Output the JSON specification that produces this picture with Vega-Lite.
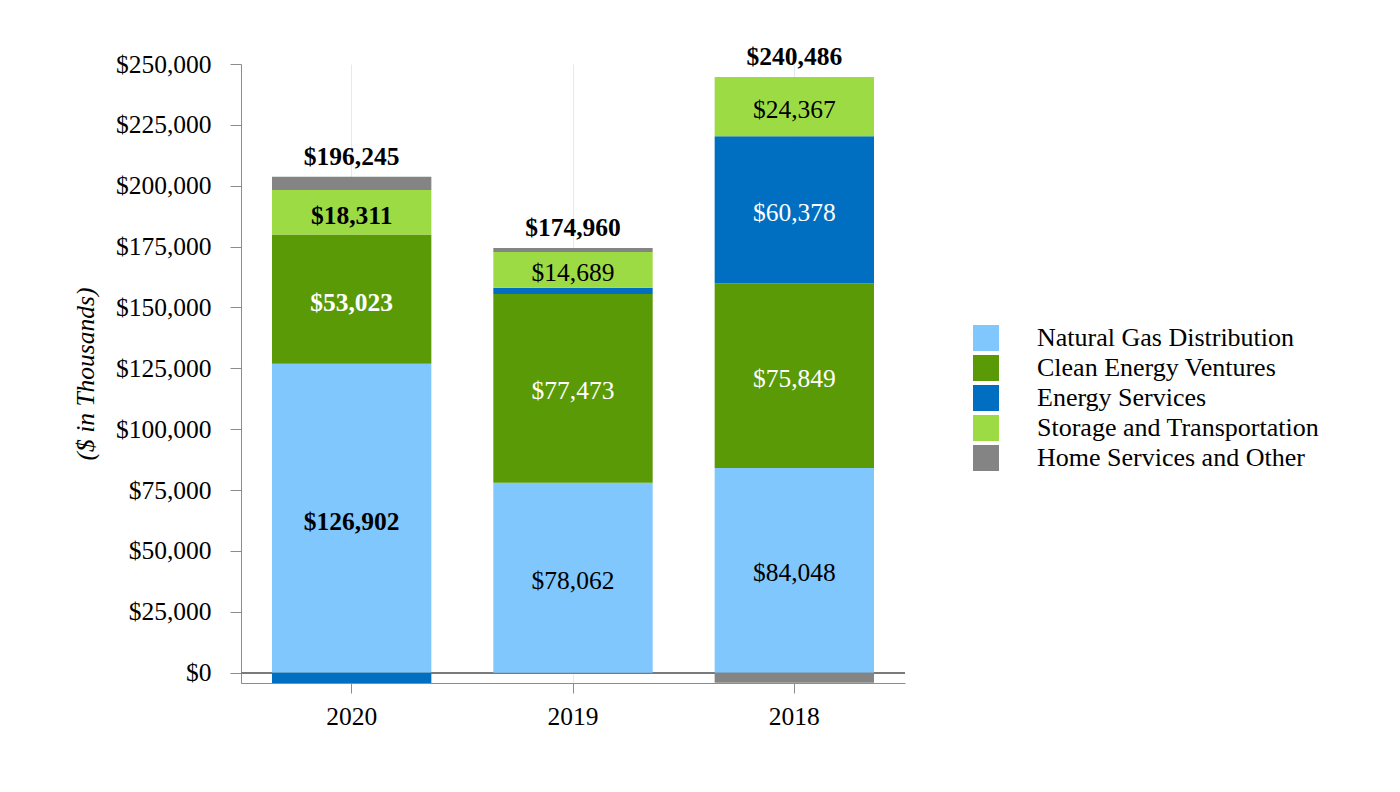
{
  "$schema": "https://vega.github.io/schema/vega-lite/v6.json",
  "autosize": {"type": "none"},
  "padding": {"left": 241, "top": 64, "right": 495, "bottom": 109},
  "width": 664,
  "height": 619,
  "background": "white",
  "datasets": {
    "segments": [
      {"year": "2020", "segment": "Natural Gas Distribution", "value": 126902},
      {"year": "2020", "segment": "Clean Energy Ventures", "value": 53023},
      {"year": "2020", "segment": "Energy Services", "value": -4233},
      {"year": "2020", "segment": "Storage and Transportation", "value": 18311},
      {"year": "2020", "segment": "Home Services and Other", "value": 5500},
      {"year": "2019", "segment": "Natural Gas Distribution", "value": 78062},
      {"year": "2019", "segment": "Clean Energy Ventures", "value": 77473},
      {"year": "2019", "segment": "Energy Services", "value": 2600},
      {"year": "2019", "segment": "Storage and Transportation", "value": 14689},
      {"year": "2019", "segment": "Home Services and Other", "value": 1600},
      {"year": "2018", "segment": "Natural Gas Distribution", "value": 84048},
      {"year": "2018", "segment": "Clean Energy Ventures", "value": 75849},
      {"year": "2018", "segment": "Energy Services", "value": 60378},
      {"year": "2018", "segment": "Storage and Transportation", "value": 24367},
      {"year": "2018", "segment": "Home Services and Other", "value": -4156}
    ],
    "totals": [
      {"year": "2020", "total": 196245},
      {"year": "2019", "total": 174960},
      {"year": "2018", "total": 240486}
    ]
  },
  "data": {"name": "segments"},
  "transform": [
    {"calculate": "indexof(['Natural Gas Distribution','Clean Energy Ventures','Energy Services','Storage and Transportation','Home Services and Other'], datum.segment)", "as": "order"},
    {"stack": "value", "groupby": ["year"], "sort": [{"field": "order", "order": "ascending"}], "offset": "zero", "as": ["v0", "v1"]},
    {"calculate": "(datum.v0 + datum.v1) / 2", "as": "mid"}
  ],
  "encoding": {
    "x": {
      "field": "year",
      "type": "nominal",
      "sort": ["2020", "2019", "2018"],
      "title": null,
      "scale": {"paddingInner": 0.28, "paddingOuter": 0.14},
      "axis": {
        "labelAngle": 0,
        "grid": true,
        "gridColor": "#e8e8e8",
        "domainColor": "#8c8c8c",
        "tickColor": "#8c8c8c",
        "tickSize": 10,
        "labelPadding": 11
      }
    }
  },
  "layer": [
    {
      "mark": {"type": "rule", "color": "#7a7a7a", "strokeWidth": 1.5},
      "encoding": {"y": {"datum": 0, "type": "quantitative", "scale": {"domain": [-4233, 250000], "nice": false}}, "x": {"value": 0}, "x2": {"value": 664}}
    },
    {
      "mark": {"type": "bar"},
      "encoding": {
        "y": {
          "field": "v0",
          "type": "quantitative",
          "title": "($ in Thousands)",
          "scale": {"domain": [-4233, 250000], "nice": false},
          "axis": {
            "values": [0, 25000, 50000, 75000, 100000, 125000, 150000, 175000, 200000, 225000, 250000],
            "format": "$,.0f",
            "gridColor": "#e8e8e8",
            "domainColor": "#8c8c8c",
            "tickColor": "#8c8c8c",
            "tickSize": 11,
            "labelPadding": 19,
            "titleFontStyle": "italic",
            "titlePadding": 17
          }
        },
        "y2": {"field": "v1"},
        "color": {
          "field": "segment",
          "type": "nominal",
          "title": null,
          "scale": {
            "domain": ["Natural Gas Distribution", "Clean Energy Ventures", "Energy Services", "Storage and Transportation", "Home Services and Other"],
            "range": ["#80c7fe", "#5a9a06", "#006fc1", "#9ddb45", "#848484"]
          },
          "legend": {
            "orient": "none",
            "legendX": 732,
            "legendY": 261,
            "symbolType": "square",
            "symbolSize": 676,
            "symbolStrokeWidth": 0,
            "labelOffset": 38,
            "rowPadding": 4,
            "padding": 0
          }
        }
      }
    },
    {
      "transform": [{"filter": "datum.year == '2020' && abs(datum.value) > 10000"}],
      "mark": {"type": "text", "fontWeight": "bold", "baseline": "middle", "dy": 4},
      "encoding": {
        "y": {"field": "mid", "type": "quantitative"},
        "text": {"field": "value", "type": "quantitative", "format": "$,.0f"},
        "color": {
          "condition": {"test": "datum.segment == 'Clean Energy Ventures' || datum.segment == 'Energy Services'", "value": "white"},
          "value": "black"
        }
      }
    },
    {
      "transform": [{"filter": "datum.year != '2020' && abs(datum.value) > 10000"}],
      "mark": {"type": "text", "baseline": "middle", "dy": 3},
      "encoding": {
        "y": {"field": "mid", "type": "quantitative"},
        "text": {"field": "value", "type": "quantitative", "format": "$,.0f"},
        "color": {
          "condition": {"test": "datum.segment == 'Clean Energy Ventures' || datum.segment == 'Energy Services'", "value": "white"},
          "value": "black"
        }
      }
    },
    {
      "transform": [
        {"filter": "datum.value > 0"},
        {"aggregate": [{"op": "max", "field": "v1", "as": "top"}], "groupby": ["year"]},
        {"lookup": "year", "from": {"data": {"name": "totals"}, "key": "year", "fields": ["total"]}}
      ],
      "mark": {"type": "text", "fontWeight": "bold", "baseline": "bottom", "dy": -7},
      "encoding": {
        "y": {"field": "top", "type": "quantitative"},
        "text": {"field": "total", "type": "quantitative", "format": "$,.0f"},
        "color": {"value": "black"}
      }
    }
  ],
  "config": {
    "font": "Liberation Serif",
    "view": {"stroke": null},
    "text": {"font": "Liberation Serif", "fontSize": 25.5},
    "axis": {
      "labelFont": "Liberation Serif",
      "labelFontSize": 25.5,
      "labelColor": "black",
      "titleFont": "Liberation Serif",
      "titleFontSize": 25.5,
      "titleFontWeight": "normal",
      "titleColor": "black"
    },
    "legend": {
      "labelFont": "Liberation Serif",
      "labelFontSize": 26,
      "labelColor": "black",
      "labelLimit": 400
    }
  }
}
